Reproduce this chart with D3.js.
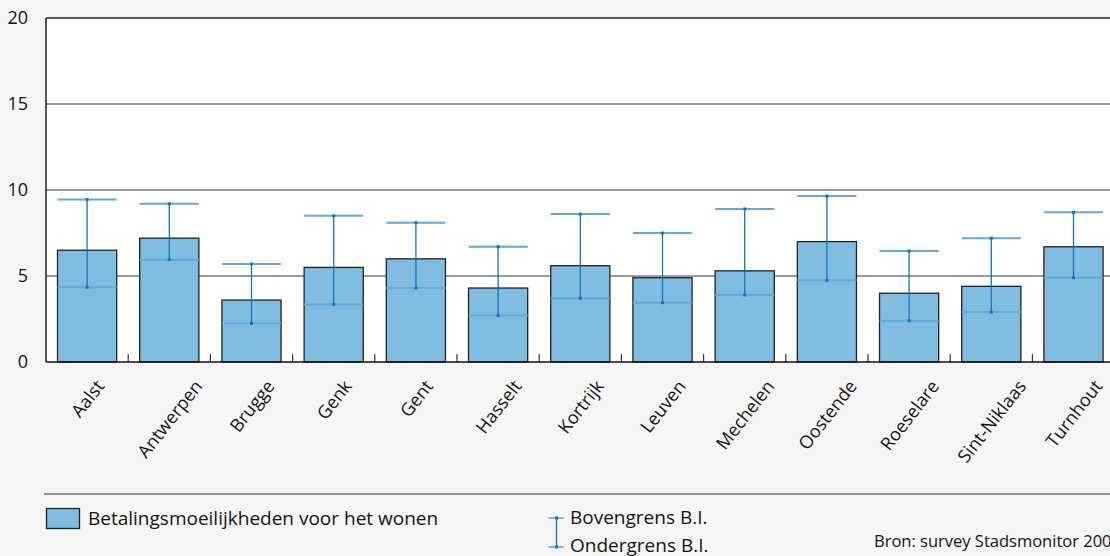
<!DOCTYPE html>
<html>
<head>
<meta charset="utf-8">
<script src="https://cdn.jsdelivr.net/npm/d3@7"></script>
<style>
  html, body { margin: 0; padding: 0; background: #f5f5f5; }
  svg { display: block; font-family: "Open Sans", sans-serif; }
</style>
</head>
<body>
<svg id="chart" width="1110" height="556"></svg>
<script>
const categories = ["Aalst", "Antwerpen", "Brugge", "Genk", "Gent", "Hasselt", "Kortrijk", "Leuven", "Mechelen", "Oostende", "Roeselare", "Sint-Niklaas", "Turnhout"];
const values = [6.5, 7.2, 3.6, 5.5, 6.0, 4.3, 5.6, 4.9, 5.3, 7.0, 4.0, 4.4, 6.7];
const upperCI = [9.45, 9.2, 5.7, 8.5, 8.1, 6.7, 8.6, 7.5, 8.9, 9.65, 6.45, 7.2, 8.7];
const lowerCI = [4.35, 5.95, 2.25, 3.35, 4.3, 2.7, 3.7, 3.45, 3.9, 4.75, 2.4, 2.9, 4.9];
const yTicks = [0, 5, 10, 15, 20];
const legendBar = "Betalingsmoeilijkheden voor het wonen";
const legendUpper = "Bovengrens B.I.";
const legendLower = "Ondergrens B.I.";
const sourceText = "Bron: survey Stadsmonitor 2008";

(function () {
const svg = d3.select("#chart");
const mLeft = 46, mTop = 18, mBottom = 362, step = 82.2;
const mRight = mLeft + step * categories.length;

const x = d3.scaleBand().domain(categories).range([mLeft, mRight]).padding(0);
const y = d3.scaleLinear().domain([0, 20]).range([mBottom, mTop]);
const barW = x.bandwidth() * 0.72;

const barFill = "#80bbe0", barStroke = "#1e2326";
const errDark = "#0a78c0", errLight = "#5eaadb";
const textCol = "#141414";

// plot background
svg.append("rect").attr("x", mLeft).attr("y", mTop).attr("width", mRight - mLeft).attr("height", mBottom - mTop).attr("fill", "#ffffff");

// gridlines
svg.append("g").selectAll("line").data(yTicks.filter(d => d > 0 && d < 20)).join("line")
  .attr("x1", mLeft).attr("x2", mRight).attr("y1", d => y(d)).attr("y2", d => y(d))
  .attr("stroke", "#7a7a7a").attr("stroke-width", 1.4);

// top border
svg.append("line").attr("x1", mLeft).attr("x2", mRight).attr("y1", y(20)).attr("y2", y(20))
  .attr("stroke", "#222").attr("stroke-width", 1.3);

// y axis labels
const yAxis = d3.axisLeft(y).tickValues(yTicks).tickSize(0).tickPadding(18);
const gy = svg.append("g").attr("transform", `translate(${mLeft},0)`).call(yAxis);
gy.select(".domain").remove();
gy.selectAll("text").attr("font-size", 18).attr("fill", textCol).attr("font-family", "Open Sans, sans-serif");

// x tick marks at band boundaries
svg.append("g").selectAll("line").data(categories.slice(1)).join("line")
  .attr("x1", d => x(d)).attr("x2", d => x(d))
  .attr("y1", mBottom).attr("y2", mBottom - 8)
  .attr("stroke", "#333").attr("stroke-width", 1.2);

// bars
svg.append("g").selectAll("rect").data(categories).join("rect")
  .attr("x", d => x(d) + (x.bandwidth() - barW) / 2)
  .attr("y", (d, i) => y(values[i]))
  .attr("width", barW)
  .attr("height", (d, i) => y(0) - y(values[i]))
  .attr("fill", barFill).attr("stroke", barStroke).attr("stroke-width", 1.3);

// error bars
const eg = svg.append("g").selectAll("g").data(categories).join("g");
eg.append("line")
  .attr("x1", d => x(d) + x.bandwidth() / 2).attr("x2", d => x(d) + x.bandwidth() / 2)
  .attr("y1", (d, i) => y(upperCI[i])).attr("y2", (d, i) => y(lowerCI[i]))
  .attr("stroke", errDark).attr("stroke-width", 1.3);
[upperCI, lowerCI].forEach(arr => {
  eg.append("line")
    .attr("x1", d => x(d) + (x.bandwidth() - barW) / 2)
    .attr("x2", d => x(d) + (x.bandwidth() + barW) / 2)
    .attr("y1", (d, i) => y(arr[i])).attr("y2", (d, i) => y(arr[i]))
    .attr("stroke", errLight).attr("stroke-width", 2);
  eg.append("rect")
    .attr("x", d => x(d) + x.bandwidth() / 2 - 1.5)
    .attr("y", (d, i) => y(arr[i]) - 1.5)
    .attr("width", 3).attr("height", 3).attr("fill", errDark);
});

// axes lines
svg.append("line").attr("x1", mLeft).attr("x2", mRight).attr("y1", mBottom).attr("y2", mBottom)
  .attr("stroke", "#111").attr("stroke-width", 1.4);
svg.append("line").attr("x1", mLeft).attr("x2", mLeft).attr("y1", mTop).attr("y2", mBottom)
  .attr("stroke", "#111").attr("stroke-width", 1.4);

// category labels rotated, bbox centred on band, top at fixed y
const labelTop = 378, labelFont = 18, angle = 52;
const rad = angle * Math.PI / 180, sn = Math.sin(rad), cs = Math.cos(rad);
svg.append("g").selectAll("text").data(categories).join("text")
  .attr("font-size", labelFont).attr("fill", textCol)
  .attr("text-anchor", "middle").attr("dominant-baseline", "central")
  .text(d => d)
  .attr("transform", function (d) {
    const L = this.getComputedTextLength();
    const H = labelFont * 0.75;
    const half = (L * sn + H * cs) / 2;
    return `translate(${x(d) + x.bandwidth() / 2},${labelTop + half}) rotate(${-angle})`;
  });

// legend separator
svg.append("line").attr("x1", 44).attr("x2", 1110).attr("y1", 494).attr("y2", 494)
  .attr("stroke", "#333").attr("stroke-width", 1.2);

// legend: bars
svg.append("rect").attr("x", 46.5).attr("y", 508.5).attr("width", 33).attr("height", 20)
  .attr("fill", barFill).attr("stroke", barStroke).attr("stroke-width", 1.3);
svg.append("text").attr("x", 88).attr("y", 518).attr("dominant-baseline", "central")
  .attr("font-size", 19).attr("fill", textCol).text(legendBar);

// legend: error bar
const lx = 556.5, ly1 = 518, ly2 = 547;
svg.append("line").attr("x1", lx).attr("x2", lx).attr("y1", ly1).attr("y2", ly2).attr("stroke", errDark).attr("stroke-width", 1.3);
[ly1, ly2].forEach(yy => {
  svg.append("line").attr("x1", lx - 8).attr("x2", lx + 7).attr("y1", yy).attr("y2", yy).attr("stroke", errLight).attr("stroke-width", 1.6);
  svg.append("rect").attr("x", lx - 1.5).attr("y", yy - 1.5).attr("width", 3).attr("height", 3).attr("fill", errDark);
});
svg.append("text").attr("x", 570).attr("y", ly1 - 1).attr("dominant-baseline", "central")
  .attr("font-size", 19).attr("fill", textCol).text(legendUpper);
svg.append("text").attr("x", 570).attr("y", ly2 - 2).attr("dominant-baseline", "central")
  .attr("font-size", 19).attr("fill", textCol).text(legendLower);

// source
svg.append("text").attr("x", 874).attr("y", 540).attr("dominant-baseline", "central")
  .attr("font-size", 16.5).attr("fill", textCol).text(sourceText);
})();
</script>
</body>
</html>
